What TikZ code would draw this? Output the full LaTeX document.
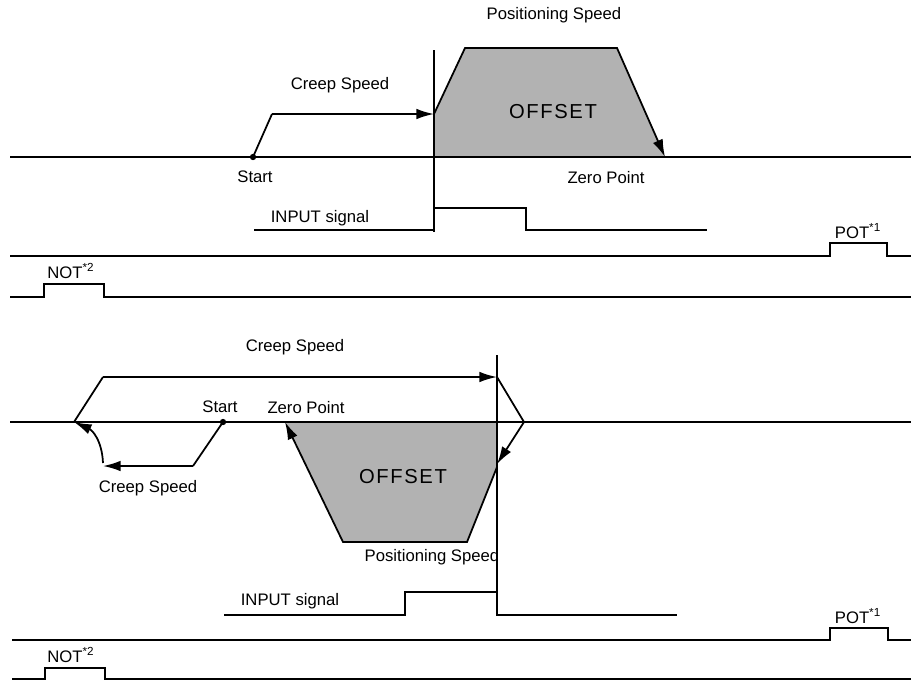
\documentclass[tikz,border=0pt]{standalone}
\usepackage{fontspec}
\setmainfont{Liberation Sans}
\usetikzlibrary{arrows.meta}
\usetikzlibrary{positioning}

\begin{document}
\begin{tikzpicture}
	[
		x = 0.02cm, y = -0.02cm,
		mylabel/.style = {inner sep = 0pt, font = \fontsize{9.5}{11}\selectfont},
		myoffset/.style = {inner sep = 0pt, font = \fontsize{11.5}{13}\selectfont\addfontfeature{LetterSpace=8}},
		myline/.style = {line width = 1pt},
		myarrow/.style = {line width = 1pt, -{Latex[length = 10pt, width = 6pt]}},
		myfill/.style = {fill = gray!60, draw = none},
		mydot/.style = {circle, fill, inner sep = 0pt, minimum size = 3.6pt}
	]
	\useasboundingbox (0,0) rectangle (911,680);
	%
	% upper diagram: start before the INPUT edge
	%
	\fill [myfill] (434,157) -- (434,114) -- (465,48) -- (617,48) -- (665,157) -- cycle;
	\draw [myline] (10,157) -- (911,157);
	\draw [myline] (434,50) -- (434,232);
	%
	\node (upstart) [mydot] at (253,157) {};
	\coordinate (upcreep) at (272,114);
	\coordinate (upedge) at (434,114);
	\coordinate (uppos) at (465,48);
	\coordinate (upposend) at (617,48);
	\coordinate (upzero) at (665,157);
	\draw [myline] (upstart.center) -- (upcreep);
	\draw [myarrow] (upcreep) -- (upedge);
	\draw [myarrow] (upedge) -- (uppos) -- (upposend) -- (upzero);
	%
	\node (uppostext) [mylabel] at (554,15) {Positioning Speed};
	\node (upcreeptext) [mylabel] at (340,85) {Creep Speed};
	\node (upoffset) [myoffset] at (553,112) {OFFSET};
	\node (upstarttext) [mylabel] at (255,177) {Start};
	\node (upzerotext) [mylabel] at (606,178) {Zero Point};
	%
	\draw [myline] (254,230) -- (434,230) |- (526,208) |- (707,230);
	\node (upinput) [mylabel] at (320,218) {INPUT signal};
	%
	\draw [myline] (10,256) -- (830,256) |- (887,243) |- (911,256);
	\node (uppot) [mylabel] at (858,231) {POT\textsuperscript{*1}};
	\draw [myline] (10,297) -- (44,297) |- (104,284) |- (911,297);
	\node (upnot) [mylabel] at (71,271) {NOT\textsuperscript{*2}};
	%
	% lower diagram: start after the INPUT edge
	%
	\fill [myfill] (285,422) -- (343,542) -- (467,542) -- (497,467) -- (497,422) -- cycle;
	\draw [myline] (10,422) -- (911,422);
	\draw [myline] (497,355) -- (497,616);
	%
	\node (lostart) [mydot] at (223,422) {};
	\coordinate (loback) at (193,466);
	\coordinate (loreturn) at (103,466);
	\coordinate (loturn) at (74,422);
	\coordinate (locreep) at (103,377);
	\coordinate (loedge) at (497,377);
	\coordinate (loover) at (524,422);
	\coordinate (loright) at (497,464);
	\coordinate (lobottomR) at (467,542);
	\coordinate (lobottomL) at (343,542);
	\coordinate (lozero) at (285,422);
	\draw [myline] (lostart.center) -- (loback);
	\draw [myarrow] (loback) -- (loreturn);
	\draw [myarrow] ([yshift = 0.06cm] loreturn) .. controls (102,440) and (92,430) .. (loturn);
	\draw [myline] (loturn) -- (locreep);
	\draw [myarrow] (locreep) -- (loedge);
	\draw [myarrow] (loedge) -- (loover) -- (loright);
	\draw [myarrow] (497,467) -- (lobottomR) -- (lobottomL) -- (lozero);
	%
	\node (locreeptext) [mylabel] at (295,347) {Creep Speed};
	\node (lostarttext) [mylabel] at (220,407) {Start};
	\node (lozerotext) [mylabel] at (306,408) {Zero Point};
	\node (lobacktext) [mylabel] at (148,488) {Creep Speed};
	\node (looffset) [myoffset] at (403,477) {OFFSET};
	\node (lopostext) [mylabel] at (432,557) {Positioning Speed};
	%
	\draw [myline] (224,615) -- (405,615) |- (497,592);
	\draw [myline] (497,615) -- (677,615);
	\node (loinput) [mylabel] at (290,601) {INPUT signal};
	%
	\draw [myline] (12,640) -- (830,640) |- (888,628) |- (911,640);
	\node (lopot) [mylabel] at (858,616) {POT\textsuperscript{*1}};
	\draw [myline] (12,679) -- (45,679) |- (105,668) |- (911,679);
	\node (lonot) [mylabel] at (71,655) {NOT\textsuperscript{*2}};
	%
\end{tikzpicture}
\end{document}
